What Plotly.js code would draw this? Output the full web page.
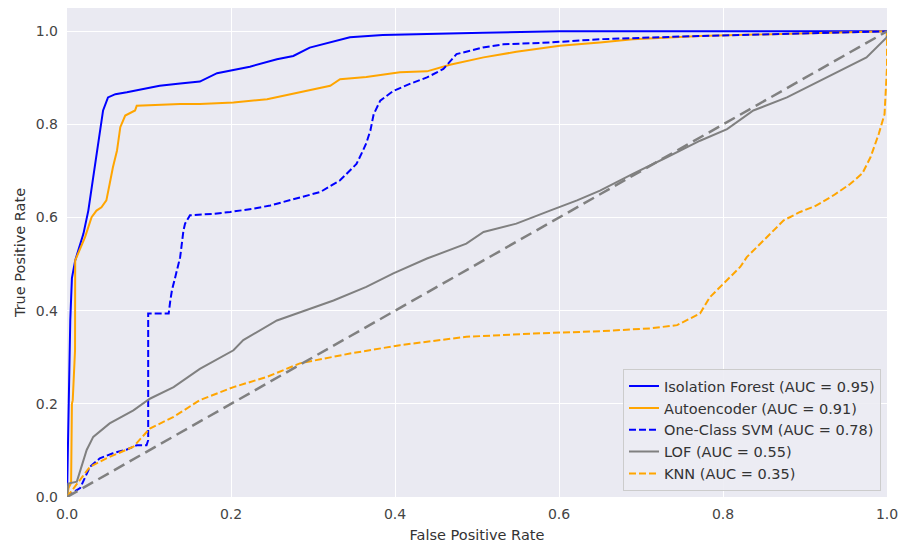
<!DOCTYPE html>
<html>
<head>
<meta charset="utf-8">
<script src="https://cdn.plot.ly/plotly-3.0.1.min.js"></script>
<style>html,body{margin:0;padding:0;background:#fff;}#chart{width:899px;height:543px;}</style>
</head>
<body>
<div id="chart"></div>
<script>
// Isolation Forest (AUC = 0.95)
const ifX = [0, 0.001, 0.002, 0.004, 0.006, 0.010, 0.020, 0.026, 0.032, 0.038, 0.044, 0.050, 0.059, 0.073, 0.093, 0.113, 0.138, 0.162, 0.183, 0.223, 0.256, 0.276, 0.296, 0.321, 0.345, 0.385, 0.426, 0.467, 0.507, 0.600, 0.800, 1.0];
const ifY = [0, 0.10, 0.22, 0.38, 0.47, 0.508, 0.565, 0.615, 0.687, 0.758, 0.830, 0.858, 0.865, 0.869, 0.876, 0.883, 0.888, 0.892, 0.910, 0.924, 0.940, 0.947, 0.965, 0.976, 0.987, 0.992, 0.994, 0.996, 0.997, 1.0, 1.0, 1.0];

// Autoencoder (AUC = 0.91)
const aeX = [0, 0.002, 0.005, 0.006, 0.007, 0.008, 0.0098, 0.010, 0.022, 0.030, 0.036, 0.042, 0.048, 0.052, 0.056, 0.061, 0.065, 0.071, 0.079, 0.083, 0.085, 0.105, 0.138, 0.162, 0.203, 0.244, 0.284, 0.321, 0.333, 0.365, 0.406, 0.439, 0.467, 0.508, 0.548, 0.601, 0.650, 0.690, 0.772, 0.900, 1.0];
const aeY = [0, 0.02, 0.03, 0.20, 0.208, 0.26, 0.315, 0.508, 0.558, 0.601, 0.615, 0.622, 0.637, 0.672, 0.708, 0.744, 0.794, 0.819, 0.826, 0.830, 0.840, 0.842, 0.844, 0.844, 0.847, 0.854, 0.869, 0.883, 0.897, 0.902, 0.912, 0.914, 0.928, 0.944, 0.956, 0.969, 0.976, 0.983, 0.990, 0.995, 1.0];

// One-Class SVM (AUC = 0.78)
const svmX = [0, 0.002, 0.016, 0.028, 0.040, 0.056, 0.073, 0.085, 0.097, 0.099, 0.099, 0.124, 0.126, 0.128, 0.132, 0.138, 0.142, 0.144, 0.150, 0.178, 0.199, 0.227, 0.248, 0.272, 0.309, 0.333, 0.353, 0.361, 0.365, 0.370, 0.374, 0.382, 0.398, 0.418, 0.439, 0.459, 0.475, 0.507, 0.532, 0.589, 0.650, 0.772, 0.900, 1.0];
const svmY = [0, 0.004, 0.019, 0.065, 0.083, 0.094, 0.102, 0.111, 0.111, 0.122, 0.394, 0.394, 0.422, 0.444, 0.472, 0.515, 0.572, 0.587, 0.605, 0.608, 0.612, 0.619, 0.626, 0.637, 0.655, 0.680, 0.715, 0.744, 0.760, 0.787, 0.822, 0.851, 0.872, 0.887, 0.901, 0.919, 0.951, 0.965, 0.972, 0.976, 0.983, 0.990, 0.995, 1.0];

// LOF (AUC = 0.55)
const lofX = [0, 0.0016, 0.012, 0.024, 0.032, 0.052, 0.081, 0.101, 0.130, 0.162, 0.203, 0.215, 0.256, 0.284, 0.325, 0.365, 0.398, 0.439, 0.487, 0.508, 0.548, 0.589, 0.622, 0.650, 0.690, 0.731, 0.772, 0.805, 0.837, 0.878, 0.926, 0.975, 0.9996, 1.0];
const lofY = [0, 0.029, 0.033, 0.101, 0.129, 0.158, 0.186, 0.211, 0.236, 0.275, 0.315, 0.337, 0.379, 0.397, 0.422, 0.451, 0.480, 0.512, 0.544, 0.569, 0.587, 0.615, 0.637, 0.658, 0.694, 0.729, 0.765, 0.790, 0.830, 0.858, 0.901, 0.944, 0.987, 1.0];

// KNN (AUC = 0.35)
const knnX = [0, 0.012, 0.028, 0.048, 0.081, 0.101, 0.130, 0.162, 0.203, 0.244, 0.284, 0.345, 0.406, 0.487, 0.569, 0.650, 0.711, 0.744, 0.772, 0.784, 0.800, 0.821, 0.829, 0.849, 0.874, 0.894, 0.914, 0.935, 0.955, 0.970, 0.980, 0.990, 0.997, 1.0, 1.0];
const knnY = [0, 0.029, 0.065, 0.083, 0.108, 0.147, 0.172, 0.208, 0.236, 0.258, 0.287, 0.308, 0.326, 0.344, 0.351, 0.356, 0.362, 0.369, 0.394, 0.429, 0.458, 0.494, 0.515, 0.551, 0.594, 0.612, 0.626, 0.648, 0.672, 0.695, 0.730, 0.780, 0.822, 0.922, 1.0];

const diagX = [0, 1];
const diagY = [0, 1];

const names = ['Isolation Forest (AUC = 0.95)', 'Autoencoder (AUC = 0.91)', 'One-Class SVM (AUC = 0.78)', 'LOF (AUC = 0.55)', 'KNN (AUC = 0.35)'];
const xTicks = [0, 0.2, 0.4, 0.6, 0.8, 1.0];
const yTicks = [0, 0.2, 0.4, 0.6, 0.8, 1.0];

const mk = (x, y, name, color, dash, g) => ({
  x: x, y: y, name: name, type: 'scatter', mode: 'lines',
  line: {color: color, width: 2, dash: dash}, legendgroup: g
});

const traces = [
  mk(ifX, ifY, names[0], '#0000ff', 'solid', 'a'),
  mk(aeX, aeY, names[1], '#ffa500', 'solid', 'b'),
  mk(svmX, svmY, names[2], '#0000ff', '7px,3px', 'c'),
  mk(lofX, lofY, names[3], '#808080', 'solid', 'd'),
  mk(knnX, knnY, names[4], '#ffa500', '7px,3px', 'e'),
  {x: diagX, y: diagY, type: 'scatter', mode: 'lines', showlegend: false,
   line: {color: '#808080', width: 2.5, dash: '12px,6px'}}
];

const tickFnt = {family: 'DejaVu Sans, sans-serif', size: 14, color: '#444'};
const titleFnt = {family: 'DejaVu Sans, sans-serif', size: 14.5, color: '#333'};
const legFnt = {family: 'DejaVu Sans, sans-serif', size: 14.5, color: '#333'};

const layout = {
  width: 899, height: 543,
  margin: {l: 67, r: 12, t: 8, b: 46},
  paper_bgcolor: '#ffffff',
  plot_bgcolor: '#eaeaf2',
  font: tickFnt,
  showlegend: true,
  xaxis: {
    range: [0, 1], tickvals: xTicks, tickformat: '.1f',
    showgrid: true, gridcolor: '#ffffff', gridwidth: 1,
    zeroline: false, showline: false, ticks: '',
    ticklabelstandoff: 7,
    title: {text: 'False Positive Rate', font: titleFnt, standoff: 9},
    tickfont: tickFnt
  },
  yaxis: {
    range: [0, 1.05], tickvals: yTicks, tickformat: '.1f',
    showgrid: true, gridcolor: '#ffffff', gridwidth: 1,
    zeroline: false, showline: false, ticks: '',
    ticklabelstandoff: 8,
    title: {text: 'True Positive Rate', font: titleFnt, standoff: 6},
    tickfont: tickFnt
  },
  legend: {
    x: 0.9927, xanchor: 'right', y: 0.012, yanchor: 'bottom',
    bgcolor: 'rgba(236,236,243,0.9)', bordercolor: '#cccccc', borderwidth: 1,
    font: legFnt, tracegroupgap: 0, traceorder: 'grouped'
  }
};

Plotly.newPlot('chart', traces, layout, {displayModeBar: false, staticPlot: true});
</script>
</body>
</html>
